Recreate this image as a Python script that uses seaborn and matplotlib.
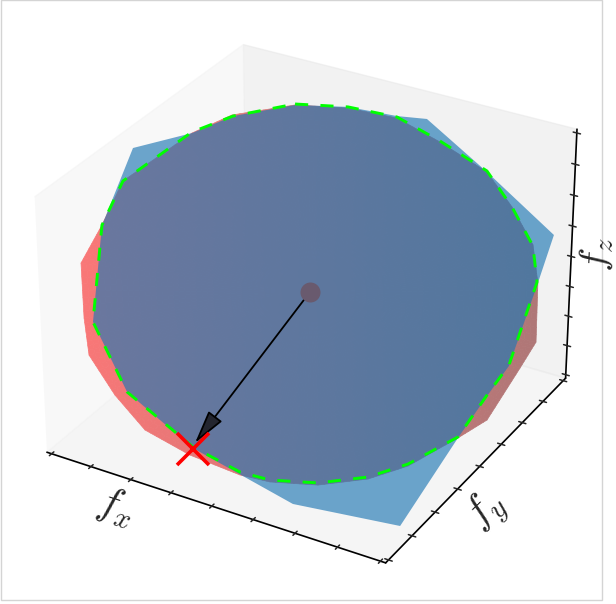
import matplotlib
matplotlib.use("Agg")
import matplotlib.pyplot as plt
import numpy as np
import seaborn as sns
from matplotlib.patches import FancyArrowPatch, Rectangle
from mpl_toolkits.mplot3d import proj3d
from mpl_toolkits.mplot3d.art3d import Poly3DCollection

# --- Red surface outline ---
red_x = [-0.321, -0.597, -0.757, -1.011, -1.049, -1.095, -1.008, -0.936, -0.764, -0.579, -0.339, -0.083, 0.064, 0.289,
         0.511, 0.678, 0.87, 0.98, 1.063, 1.102, 1.032, 0.959, 0.812, 0.651, 0.395, 0.165, -0.073]
red_y = [0.386, 0.195, 0.048, -0.246, -0.403, -0.546, -0.664, -0.736, -0.759, -0.76, -0.698, -0.611, -0.547, -0.427,
         -0.28, -0.144, 0.053, 0.171, 0.378, 0.48, 0.621, 0.696, 0.727, 0.741, 0.685, 0.626, 0.519]
red_z = [1.142, 1.081, 0.97, 0.676, 0.406, 0.173, -0.164, -0.391, -0.636, -0.85, -1.004, -1.126, -1.169, -1.188,
         -1.151, -1.071, -0.899, -0.789, -0.47, -0.311, 0.051, 0.284, 0.517, 0.731, 0.915, 1.062, 1.123]

# --- Blue polygon ---
blue_x = [-0.321, -0.075, 0.163, 0.304, 0.455, 0.651, 1.042, 1.032, 1.009, 0.948, 0.87, 0.721, 0.199, -0.03, -0.335,
          -0.712, -0.962, -1.049, -1.045, -1.009, -0.757, -0.591]
blue_y = [0.386, 0.522, 0.631, 0.704, 0.72, 0.741, 0.774, 0.621, 0.354, 0.226, 0.053, -0.303, -0.537, -0.596, -0.674,
          -0.72, -0.649, -0.403, -0.378, -0.143, 0.048, 0.196]
blue_z = [1.142, 1.13, 1.074, 1.056, 0.915, 0.731, 0.345, 0.051, -0.458, -0.642, -0.899, -1.439, -1.304, -1.157,
          -0.961, -0.617, -0.188, 0.406, 0.449, 0.878, 0.97, 1.074]

# --- Green dashed outline ---
green_x = [-0.322, -0.075, 0.164, 0.393, 0.649, 0.812, 0.96, 1.027, 1.008, 0.947, 0.869, 0.675, 0.508, 0.286, 0.062,
           -0.087, -0.336, -0.712, -0.962, -1.049, -1.011, -0.759, -0.591, -0.322]
green_y = [0.388, 0.522, 0.629, 0.688, 0.744, 0.727, 0.693, 0.621, 0.356, 0.229, 0.055, -0.14, -0.276, -0.422, -0.543,
           -0.604, -0.671, -0.72, -0.649, -0.403, -0.246, 0.05, 0.196, 0.388]
green_z = [1.148, 1.13, 1.068, 0.921, 0.737, 0.517, 0.278, 0.057, -0.452, -0.636, -0.893, -1.059, -1.139, -1.175,
           -1.157, -1.108, -0.955, -0.617, -0.188, 0.406, 0.676, 0.976, 1.074, 1.148]

center = (-0.004, -0.004, -0.004)
arrow_tip = (-0.332, -0.657, -0.93)
cross = (-0.333, -0.676, -0.967)
ticks = np.linspace(-1, 1, 9)


class Arrow3D(FancyArrowPatch):
    def __init__(self, xs, ys, zs, **kwargs):
        super().__init__((0, 0), (0, 0), **kwargs)
        self._verts3d = xs, ys, zs

    def do_3d_projection(self, renderer=None):
        xs, ys, zs = proj3d.proj_transform(*self._verts3d, self.axes.get_proj())
        self.set_positions((xs[0], ys[0]), (xs[1], ys[1]))
        return np.min(zs)


def red_surface():
    # fan mesh from the centre to the outline, shaded from left to right
    n = len(red_x)
    u = np.linspace(0, n, n * 8 + 1)
    ring = np.arange(n + 1)
    bx = np.interp(u, ring, red_x + red_x[:1])
    by = np.interp(u, ring, red_y + red_y[:1])
    bz = np.interp(u, ring, red_z + red_z[:1])
    r = np.linspace(0, 1, 41)[:, None]
    X = center[0] + r * (bx - center[0])
    Y = center[1] + r * (by - center[1])
    Z = center[2] + r * (bz - center[2])
    t = 0.866 * X + 0.5 * Y
    t = 0.25 * (t[:-1, :-1] + t[1:, :-1] + t[:-1, 1:] + t[1:, 1:])
    shade = np.interp(t, [-1.22, 1.19], [1.0, 0.42])
    # opaque mix of half transparent red over the pane
    colors = np.ones(shade.shape + (4,))
    colors[..., 0] = (shade * 127.5 + 121.5) / 255
    colors[..., 1] = 119 / 255
    colors[..., 2] = 119 / 255
    return X, Y, Z, colors


sns.set_style("white")
plt.rcParams["mathtext.fontset"] = "cm"

fig = plt.figure(figsize=(6.16, 6.04), dpi=100)
fig.add_artist(Rectangle((1 / 616, 4 / 604), 601 / 616, 600 / 604, transform=fig.transFigure,
                         facecolor="none", edgecolor="#d4d4d4", linewidth=1))
ax = fig.add_axes([0.00227, 0.0051, 603 / 616, 603 / 604], projection="3d")
ax.patch.set_alpha(0)
ax.computed_zorder = False

X, Y, Z, colors = red_surface()
ax.plot_surface(X, Y, Z, facecolors=colors, rstride=1, cstride=1, shade=False,
                linewidth=0.5, antialiased=True, zorder=1)

blue = Poly3DCollection([list(zip(blue_x, blue_y, blue_z))], facecolor=sns.color_palette("tab10")[0] + (0.65,),
                        edgecolor="none", zorder=2)
ax.add_collection3d(blue)

ax.plot(green_x, green_y, green_z, color=(0, 1, 0), linewidth=2.1, linestyle=(0, (4.5, 4.2)), zorder=3)

arrow = Arrow3D([center[0], arrow_tip[0]], [center[1], arrow_tip[1]], [center[2], arrow_tip[2]],
                arrowstyle="-|>,head_length=0.95,head_width=0.24", mutation_scale=22, shrinkA=0, shrinkB=0,
                facecolor="#23252f", edgecolor="black", linewidth=1.3, zorder=4)
ax.add_artist(arrow)

ax.plot(*[[v] for v in center], marker="o", markersize=14.4, color="#695a6e", markeredgewidth=0, zorder=5)
ax.plot(*[[v] for v in cross], marker="x", markersize=23, color="red", markeredgewidth=2.6, zorder=6)

ax.view_init(elev=30, azim=-60)
ax.set_xlim(-1.03, 1.03)
ax.set_ylim(-1.03, 1.03)
ax.set_zlim(-1.03, 1.03)
ax.grid(False)
ax.set_xticks(ticks)
ax.set_yticks(ticks)
ax.set_zticks(ticks)
ax.set_xticklabels([])
ax.set_yticklabels([])
ax.set_zticklabels([])
for axis in (ax.xaxis, ax.yaxis, ax.zaxis):
    axis.line.set_color("black")
    axis.line.set_linewidth(1.2)
    axis._axinfo["tick"]["color"] = "black"
    axis._axinfo["tick"]["linewidth"] = {True: 1.1, False: 1.1}
    axis._axinfo["tick"]["inward_factor"] = 0.13
    axis._axinfo["tick"]["outward_factor"] = 0.13

fig.text(115 / 616, 1 - 507 / 604, "$f_x$", fontsize=30, rotation=-18, ha="center", va="center")
fig.text(487 / 616, 1 - 511 / 604, "$f_y$", fontsize=30, rotation=44, ha="center", va="center")
fig.text(597 / 616, 1 - 254 / 604, "$f_z$", fontsize=28, rotation=88, ha="center", va="center")

fig.savefig("out.png", dpi=100)
